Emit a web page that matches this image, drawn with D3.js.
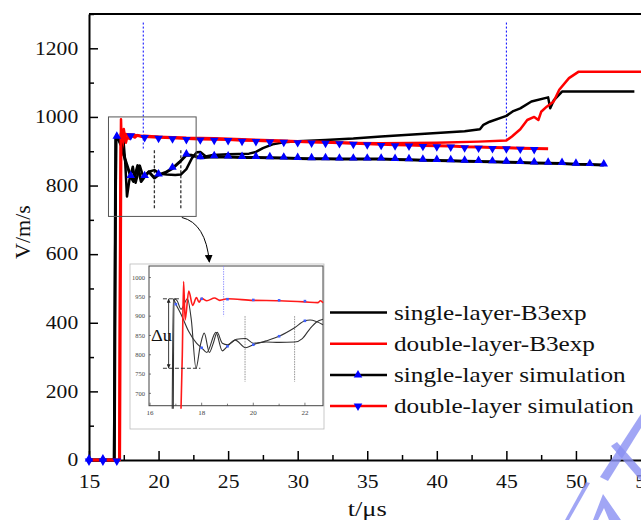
<!DOCTYPE html>
<html>
<head>
<meta charset="utf-8">
<script src="https://d3js.org/d3.v7.min.js"></script>
<style>
body { margin: 0; background: #fff; }
svg { display: block; }
text { font-family: "Liberation Serif", "Times New Roman", serif; }
</style>
</head>
<body>
<div id="chart"></div>
<script>
// main plot, [t (us), V (m/s)]
var singleExp = [[15,0],[16.8,0],[16.88,600],[16.96,947],[17.1,940],[17.25,920],[17.45,945],[17.6,870],[17.73,768],
  [17.9,815],[18.15,855],[18.35,808],[18.5,832],[18.65,858],[18.85,832],[19.0,828],[19.3,840],[19.7,845],[20.1,834],
  [20.6,832],[21.2,831],[21.6,832],[22.0,848],[22.4,880],[22.75,897],[23.0,898],[23.4,885],[23.9,889],[25.0,891],
  [26.5,893],[27.0,898],[27.5,909],[28.2,920],[29,926],[30,929],[32,933],[34,937],[36,943],[38,948],[40,953],[42,958],
  [43.1,964],[43.35,977],[43.8,986],[45,1003],[45.5,1017],[46,1025],[46.8,1045],[48,1057],[48.15,1025],[48.4,1048],
  [49.0,1074],[54.2,1074]];
var doubleExp = [[15,0],[17.18,0],[17.24,700],[17.3,993],[17.37,890],[17.5,965],[17.65,925],[17.8,948],[17.9,936],
  [18.0,946],[18.3,940],[18.5,947],[18.8,942],[19,945],[20,942],[21,941],[22,939],[24,938],[26,935],[28,932],
  [30,929],[32,926],[34,924],[36,923],[40,925],[43,928],[45,931],[45.4,943],[46,964],[46.5,991],[47,1000],
  [47.3,991],[47.5,1015],[47.9,1030],[48.4,1045],[48.8,1079],[49.5,1113],[50.2,1132],[56,1132]];
var singleSim = [[15,0],[16,0],[16.82,0],[16.92,941],[17,941],[17.3,922],[17.6,875],[18,826],[18.2,812],[18.5,858],
  [18.75,812],[19,826],[19.3,840],[19.7,822],[20,831],[20.5,838],[21,850],[21.5,868],[22,889],[22.4,888],[23,881],
  [24,884],[25,883],[26,882],[27,882],[28,881],[29,880],[30,879],[31,878],[32,878],[33,877],[34,877],[35,877],
  [36,877],[37,876],[38,875],[39,874],[40,873],[41,872],[42,871],[43,870],[44,869],[45,868],[46,867],[47,866],
  [48,865],[49,864],[50,862],[51,861],[52,860]];
var doubleSim = [[15,0],[16,0],[17,0],[17.2,0],[17.3,950],[18,948],[19,943],[20,941],[21,939],[22,937],[23,936],
  [24,935],[25,934],[26,932],[27,931],[28,930],[29,929],[30,928],[31,927],[32,926],[33,925],[34,923],[35,922],
  [36,920],[37,919],[38,918],[39,917],[40,916],[41,915],[42,913],[43,912],[44,911],[45,910],[46,909],[47,908],[48,907]];
var singleSimMarkT = d3.range(15, 53);
var doubleSimMarkT = d3.range(15, 48);

// inset (zoomed view of 16-22.7 us)
var insetSingleExp = [[16.9,660],[16.93,945],[17.05,940],[17.2,918],[17.45,945],[17.6,890],[17.78,765],[17.95,825],
  [18.1,856],[18.3,806],[18.45,830],[18.6,858],[18.8,830],[19.0,826],[19.35,840],[19.7,842],[20.0,830],[20.5,833],
  [21.0,832],[21.6,833],[21.9,842],[22.2,868],[22.45,885],[22.7,892]];
var insetSingleSim = [[16.86,660],[16.9,945],[17,931],[17.2,905],[17.5,860],[17.8,830],[18,818],[18.2,806],
  [18.55,858],[18.8,810],[19,822],[19.3,838],[19.7,818],[20,826],[20.5,836],[21,848],[21.6,870],[22,888],
  [22.2,890],[22.7,878]];
var insetDoubleExp = [[17.2,660],[17.25,800],[17.3,990],[17.36,890],[17.5,965],[17.65,928],[17.8,948],[17.9,936],
  [18.0,946],[18.2,940],[18.5,947],[18.7,941],[19,945],[20,941],[21,940],[22,937],[22.5,935],[22.6,940],[22.7,935]];
var insetDoubleMarks = [[18,945],[19,944],[20,942],[21,941],[22,939]];
var insetSingleMarkT = [17,18,19,20,21,22];

var legendLabels = ["single-layer-B3exp", "double-layer-B3exp", "single-layer simulation", "double-layer simulation"];
var xTicks = [15,20,25,30,35,40,45,50,55];
var xMinor = [17.5,22.5,27.5,32.5,37.5,42.5,47.5,52.5];
var yTicks = [0,200,400,600,800,1000,1200];
var yMinor = [100,300,500,700,900,1100,1300];
var insetXTicks = [16,18,20,22];
var insetXMinor = [17,19,21];
var insetYTicks = [700,750,800,850,900,950,1000];

var W = 641, H = 520;
var svg = d3.select("#chart").append("svg").attr("width", W).attr("height", H);

var x = d3.scaleLinear().domain([15, 55]).range([89, 645.5]);
var y = d3.scaleLinear().domain([0, 1300]).range([460, 14]);
var stretch = "scale(1.2,1)";

// frame
svg.append("line").attr("x1", x(15)).attr("x2", x(55)).attr("y1", y(1300)).attr("y2", y(1300))
    .attr("stroke", "#000").attr("stroke-width", 2);
svg.append("line").attr("x1", x(55)).attr("x2", x(55)).attr("y1", y(1300)).attr("y2", y(0))
    .attr("stroke", "#000").attr("stroke-width", 2);

var xAxis = svg.append("g").attr("transform", "translate(0," + y(0) + ")")
    .call(d3.axisBottom(x).tickValues(xTicks).tickSize(-9).tickSizeOuter(0).tickPadding(15).tickFormat(d3.format("d")));
svg.append("g").attr("transform", "translate(0," + y(0) + ")")
    .call(d3.axisBottom(x).tickValues(xMinor).tickSize(-5).tickSizeOuter(0).tickFormat(""))
    .select(".domain").remove();
var yAxis = svg.append("g").attr("transform", "translate(" + x(15) + ",0)")
    .call(d3.axisLeft(y).tickValues(yTicks).tickSize(-9).tickSizeOuter(0).tickPadding(9).tickFormat(d3.format("d")));
svg.append("g").attr("transform", "translate(" + x(15) + ",0)")
    .call(d3.axisLeft(y).tickValues(yMinor).tickSize(-5).tickSizeOuter(0).tickFormat(""))
    .select(".domain").remove();

svg.selectAll(".domain").attr("stroke", "#000").attr("stroke-width", 2);
svg.selectAll(".tick line").attr("stroke", "#000").attr("stroke-width", 1.5);
[xAxis, yAxis].forEach(function(ax) {
    ax.selectAll("text").attr("font-size", 18).attr("fill", "#111")
        .style("font-family", "Liberation Serif").attr("transform", stretch);
});

// axis titles
svg.append("text").attr("transform", "translate(" + x(35) + ",516) " + stretch)
    .attr("text-anchor", "middle").attr("font-size", 22).attr("fill", "#111").text("t/\u03bcs");
svg.append("text").attr("transform", "translate(30,232) rotate(-90)")
    .attr("text-anchor", "middle").attr("font-size", 22).attr("fill", "#111").text("V/m/s");

// guide lines
[[18.9, 1275, 903], [45, 1275, 933]].forEach(function(g) {
    svg.append("line").attr("x1", x(g[0])).attr("x2", x(g[0])).attr("y1", y(g[1])).attr("y2", y(g[2]))
        .attr("stroke", "#0000ff").attr("stroke-width", 1).attr("stroke-dasharray", "2,2");
});
[19.7, 21.6].forEach(function(t) {
    svg.append("line").attr("x1", x(t)).attr("x2", x(t)).attr("y1", y(903)).attr("y2", y(729))
        .attr("stroke", "#333").attr("stroke-width", 1.3).attr("stroke-dasharray", "3,2");
});

var line = d3.line().x(d => x(d[0])).y(d => y(d[1]));

var series = [
    {data: singleExp, color: "#000", w: 2.5},
    {data: doubleExp, color: "#ff0000", w: 2.5},
    {data: singleSim, color: "#000", w: 3},
    {data: doubleSim, color: "#ff0000", w: 3}
];
svg.selectAll(".series").data(series).enter().append("path")
    .attr("class", "series")
    .attr("d", d => line(d.data))
    .attr("fill", "none")
    .attr("stroke", d => d.color)
    .attr("stroke-width", d => d.w)
    .attr("stroke-linejoin", "round");

var tri = d3.symbol(d3.symbolTriangle).size(32);
svg.selectAll(".m-single").data(singleSim.filter(d => singleSimMarkT.indexOf(d[0]) >= 0))
    .enter().append("path").attr("class", "m-single").attr("d", tri)
    .attr("transform", d => "translate(" + x(d[0]) + "," + (y(d[1]) - 1) + ")")
    .attr("fill", "#0000ff");
svg.selectAll(".m-double").data(doubleSim.filter(d => doubleSimMarkT.indexOf(d[0]) >= 0))
    .enter().append("path").attr("class", "m-double").attr("d", tri)
    .attr("transform", d => "translate(" + x(d[0]) + "," + (y(d[1]) + 1) + ") rotate(180)")
    .attr("fill", "#0000ff");

// zoom box + arrow
svg.append("rect").attr("x", x(16.4)).attr("y", y(1000)).attr("width", x(22.7) - x(16.4))
    .attr("height", y(710) - y(1000)).attr("fill", "none").attr("stroke", "#555").attr("stroke-width", 1);
svg.append("defs").append("marker").attr("id", "ah").attr("viewBox", "0 0 10 10")
    .attr("refX", 9).attr("refY", 5).attr("markerWidth", 8).attr("markerHeight", 8)
    .attr("orient", "auto-start-reverse").attr("markerUnits", "userSpaceOnUse")
    .append("path").attr("d", "M0,0L10,5L0,10z").attr("fill", "#000");
svg.append("path")
    .attr("d", "M" + x(21.67) + "," + y(707) + " Q" + x(23.4) + "," + y(690) + " " + x(23.65) + "," + y(577))
    .attr("fill", "none").attr("stroke", "#000").attr("stroke-width", 1).attr("marker-end", "url(#ah)");

// inset
var ins = svg.append("g");
ins.append("rect").attr("x", 130).attr("y", 264).attr("width", 194).attr("height", 165)
    .attr("fill", "#fff").attr("stroke", "#bbb").attr("stroke-width", 0.8);
var ix = d3.scaleLinear().domain([15.96, 22.7]).range([149, 323]);
var iy = d3.scaleLinear().domain([668, 1030]).range([405.7, 266]);
ins.append("rect").attr("x", ix(15.96)).attr("y", iy(1030)).attr("width", ix(22.7) - ix(15.96))
    .attr("height", iy(668) - iy(1030)).attr("fill", "none").attr("stroke", "#444").attr("stroke-width", 1);
ins.selectAll(".ixt").data(insetXTicks.concat(insetXMinor)).enter().append("line")
    .attr("x1", d => ix(d)).attr("x2", d => ix(d)).attr("y1", iy(668)).attr("y2", d => iy(668) - (d % 2 ? 2 : 3))
    .attr("stroke", "#444").attr("stroke-width", 0.7);
ins.selectAll(".ixl").data(insetXTicks).enter().append("text")
    .attr("x", d => ix(d)).attr("y", 415).attr("text-anchor", "middle").attr("font-size", 7).attr("fill", "#444")
    .text(d => d);
ins.selectAll(".iyl").data(insetYTicks).enter().append("text")
    .attr("x", 145).attr("y", d => iy(d) + 2.3).attr("text-anchor", "end").attr("font-size", 6.5).attr("fill", "#444")
    .text(d => d);
ins.selectAll(".iyt").data(insetYTicks).enter().append("line")
    .attr("x1", ix(15.96)).attr("x2", ix(15.96) + 2).attr("y1", d => iy(d)).attr("y2", d => iy(d))
    .attr("stroke", "#444").attr("stroke-width", 0.7);

ins.append("line").attr("x1", ix(18.85)).attr("x2", ix(18.85)).attr("y1", iy(1030)).attr("y2", iy(900))
    .attr("stroke", "#8080ff").attr("stroke-width", 0.8).attr("stroke-dasharray", "1.5,1");
[19.68, 21.6].forEach(function(t) {
    ins.append("line").attr("x1", ix(t)).attr("x2", ix(t)).attr("y1", iy(900)).attr("y2", iy(730))
        .attr("stroke", "#666").attr("stroke-width", 0.7).attr("stroke-dasharray", "1.5,1");
});

var iline = d3.line().x(d => ix(d[0])).y(d => iy(d[1])).curve(d3.curveMonotoneX);
ins.append("path").attr("d", iline(insetSingleExp)).attr("fill", "none").attr("stroke", "#333").attr("stroke-width", 1.1);
ins.append("path").attr("d", iline(insetSingleSim)).attr("fill", "none").attr("stroke", "#333").attr("stroke-width", 1.1);
ins.append("path").attr("d", iline(insetDoubleExp)).attr("fill", "none").attr("stroke", "#ff1a1a").attr("stroke-width", 1.6);
ins.selectAll(".im1").data(insetSingleSim.filter(d => insetSingleMarkT.indexOf(d[0]) >= 0).concat(insetDoubleMarks))
    .enter().append("rect").attr("x", d => ix(d[0]) - 1.3).attr("y", d => iy(d[1]) - 1.3)
    .attr("width", 2.6).attr("height", 2.6).attr("fill", "#4060ff");

// delta-u annotation
ins.selectAll(".du").data([[17.15, 945], [17.95, 765]]).enter().append("line")
    .attr("x1", ix(16.5)).attr("x2", d => ix(d[0])).attr("y1", d => iy(d[1])).attr("y2", d => iy(d[1]))
    .attr("stroke", "#222").attr("stroke-width", 0.9).attr("stroke-dasharray", "4,2");
ins.append("defs").append("marker").attr("id", "sah").attr("viewBox", "0 0 10 10")
    .attr("refX", 10).attr("refY", 5).attr("markerWidth", 4).attr("markerHeight", 4)
    .attr("orient", "auto-start-reverse").attr("markerUnits", "userSpaceOnUse")
    .append("path").attr("d", "M0,0L10,5L0,10z").attr("fill", "#222");
ins.append("line").attr("x1", ix(16.72)).attr("x2", ix(16.72)).attr("y1", iy(945)).attr("y2", iy(765))
    .attr("stroke", "#222").attr("stroke-width", 0.9)
    .attr("marker-start", "url(#sah)").attr("marker-end", "url(#sah)");
ins.append("text").attr("transform", "translate(151," + iy(835) + ") scale(1.15,1)")
    .attr("font-size", 16).attr("fill", "#111").text("\u0394u");

// legend
var leg = svg.append("g");
legendLabels.forEach(function(lab, i) {
    var ly = 312.5 + i * 31.2;
    leg.append("line").attr("x1", 330).attr("x2", 387).attr("y1", ly).attr("y2", ly)
        .attr("stroke", i % 2 ? "#ff0000" : "#000").attr("stroke-width", 2.5);
    if (i >= 2) {
        leg.append("path").attr("d", tri)
            .attr("transform", "translate(358," + ly + ")" + (i === 3 ? " rotate(180)" : ""))
            .attr("fill", "#0000ff");
    }
    leg.append("text").attr("transform", "translate(394," + (ly + 7) + ") scale(1.2,1)")
        .attr("font-size", 21).attr("fill", "#111").text(lab);
});

// watermark strokes bottom right
var marks = [
    [[641,414],[641,428],[608,481],[600,477]],
    [[611,446],[617,442],[641,469],[641,481]],
    [[586,482],[590,483],[569,520],[565,520]],
    [[603,494],[621,520],[609,520],[604,508],[598,520],[593,520]]
];
svg.selectAll(".wm").data(marks).enter().append("polygon")
    .attr("points", d => d.map(p => p.join(",")).join(" "))
    .attr("fill", "#8a90f2").attr("opacity", 0.8);
</script>
</body>
</html>
